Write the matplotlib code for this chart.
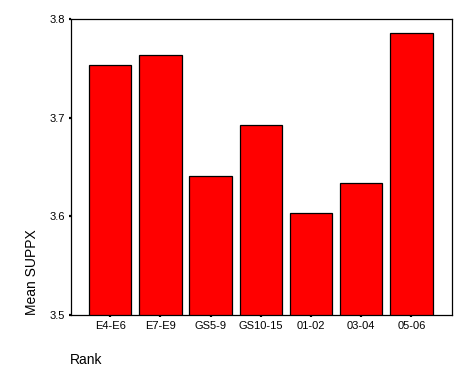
import matplotlib
matplotlib.use("Agg")
import matplotlib.pyplot as plt

categories = ["E4-E6", "E7-E9", "GS5-9", "GS10-15", "01-02", "03-04", "05-06"]
values = [3.754, 3.7635, 3.6407, 3.6925, 3.6032, 3.6336, 3.7858]
yticks = [3.5, 3.6, 3.7, 3.8]

plt.rcParams['font.family'] = ['Liberation Sans', 'DejaVu Sans']

fig = plt.figure(figsize=(4.71, 3.77), dpi=100)
ax = fig.add_axes([71/471, 1-315/377, (452-71)/471, (315-19.3)/377])

x = list(range(len(categories)))
ax.bar(x, values, width=0.845, bottom=0, color='#ff0000', edgecolor='black', linewidth=0.9)
ax.set_ylim(3.5, 3.8)
ax.set_xlim(-0.78, 6.81)
ax.set_xticks(x)
ax.set_xticklabels(categories, fontsize=8)
ax.set_yticks(yticks)
ax.set_yticklabels([f"{v:.1f}" for v in yticks], fontsize=8)
ax.tick_params(axis='both', direction='out', length=1.6, width=1.6, color='black', pad=2.5)

for s in ax.spines.values():
    s.set_linewidth(0.9)
    s.set_color('black')

fig.text(70/471, 1-360/377, "Rank", fontsize=10, ha='left', va='center')
fig.text(32/471, 1-315/377, "Mean SUPPX", fontsize=10, rotation=90, ha='center', va='bottom')

fig.savefig("out.png", dpi=100)
